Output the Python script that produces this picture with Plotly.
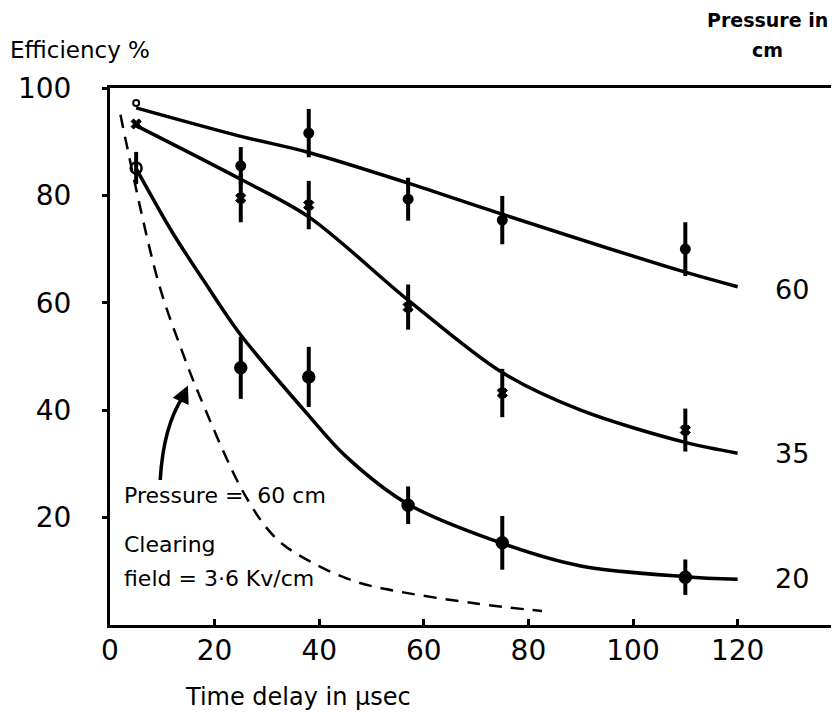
import plotly.graph_objects as go

# ---- data ----
delay = [5, 25, 38, 57, 75, 110]

eff60 = [97.2, 85.5, 91.6, 79.3, 75.4, 70.0]
err60 = [0, 3.5, 4.5, 4.0, 4.5, 5.0]
eff35 = [93.3, 79.5, 78.2, 59.2, 43.2, 36.3]
err35 = [0, 4.5, 4.5, 4.2, 4.5, 4.0]
eff20 = [85.1, 47.9, 46.2, 22.3, 15.3, 8.9]
err20 = [3.0, 5.8, 5.6, 3.5, 5.0, 3.3]

curve60_x = [5, 25, 38, 57, 75, 110, 120]
curve60_y = [96.3, 91.0, 88.0, 82.3, 76.5, 65.7, 63.0]
curve35_x = [5, 25, 38, 57, 75, 90, 110, 120]
curve35_y = [93.0, 83.0, 76.0, 60.5, 47.0, 40.0, 34.0, 32.0]
curve20_x = [5, 12, 18, 25, 38, 45, 57, 75, 90, 110, 120]
curve20_y = [85.0, 73.0, 64.0, 54.0, 39.0, 31.5, 22.5, 15.2, 11.0, 9.0, 8.5]
dash_x = [2, 9.2, 13.7, 17.2, 25.8, 31.9, 38.9, 47.2, 55.4, 70, 82.6]
dash_y = [95.0, 64.0, 51.2, 42.5, 24.2, 16.0, 11.5, 8.0, 6.2, 4.0, 2.6]

x_ticks = [0, 20, 40, 60, 80, 100, 120]
x_ticktext = ["0", "20", "40", "60", "80", "100", "120"]
y_ticks = [20, 40, 60, 80, 100]
y_ticktext = ["20", "40", "60", "80", "100"]

series_labels = ["60", "35", "20"]
series_label_y = [62.4, 32.0, 8.75]

FONT = "DejaVu Sans"
BLACK = "black"

fig = go.Figure()

for cx, cy in [(curve60_x, curve60_y), (curve35_x, curve35_y), (curve20_x, curve20_y)]:
    fig.add_trace(go.Scatter(x=cx, y=cy, mode="lines",
                             line=dict(color=BLACK, width=3.5, shape="spline", smoothing=0.9),
                             showlegend=False, hoverinfo="skip"))

fig.add_trace(go.Scatter(x=dash_x, y=dash_y, mode="lines",
                         line=dict(color=BLACK, width=2.5, dash="13px,9px", shape="spline", smoothing=1.0),
                         showlegend=False, hoverinfo="skip"))

fig.add_trace(go.Scatter(
    x=delay, y=eff60, mode="markers", showlegend=False,
    error_y=dict(type="data", array=err60, visible=True, color=BLACK, thickness=4, width=0),
    marker=dict(color=BLACK, opacity=1, size=[6, 9, 9, 9, 9, 9],
                symbol=["circle-open", "circle", "circle", "circle", "circle", "circle"],
                line=dict(color=BLACK, width=2))))

fig.add_trace(go.Scatter(
    x=delay, y=eff35, mode="markers", showlegend=False,
    error_y=dict(type="data", array=err35, visible=True, color=BLACK, thickness=4, width=0),
    marker=dict(color=BLACK, opacity=1, size=9, symbol="x", line=dict(color=BLACK, width=1))))

fig.add_trace(go.Scatter(
    x=delay, y=eff20, mode="markers", showlegend=False,
    error_y=dict(type="data", array=err20, visible=True, color=BLACK, thickness=4, width=0),
    marker=dict(color=BLACK, opacity=1, size=11,
                symbol=["circle-open", "circle", "circle", "circle", "circle", "circle"],
                line=dict(color=BLACK, width=2.5))))

# curved arrow
fig.add_shape(type="path", xref="x", yref="y",
              path="M 9.6,27 Q 10.2,37 14.0,42.6",
              line=dict(color=BLACK, width=3.5))

annotations = [
    dict(x=14.9, y=44.6, ax=13.6, ay=41.8, axref="x", ayref="y", xref="x", yref="y",
         showarrow=True, arrowhead=2, arrowsize=1, arrowwidth=3.5, arrowcolor=BLACK, text=""),
    dict(x=2.3, y=24.2, xref="x", yref="y", xanchor="left", yanchor="middle", showarrow=False,
         text="Pressure =  60 cm", font=dict(family=FONT, size=22, color=BLACK)),
    dict(x=2.3, y=14.9, xref="x", yref="y", xanchor="left", yanchor="middle", showarrow=False,
         text="Clearing", font=dict(family=FONT, size=22, color=BLACK)),
    dict(x=2.3, y=8.75, xref="x", yref="y", xanchor="left", yanchor="middle", showarrow=False,
         text="field = 3·6 Kv/cm", font=dict(family=FONT, size=22, color=BLACK)),
    dict(x=-0.140, y=1.071, xref="paper", yref="paper", xanchor="left", yanchor="middle",
         showarrow=False, text="Efficiency %", font=dict(family=FONT, size=23, color=BLACK)),
    dict(x=0.904, y=1.127, xref="paper", yref="paper", xanchor="center", yanchor="middle",
         showarrow=False, text="<b>Pressure in</b>", font=dict(family=FONT, size=19, color=BLACK)),
    dict(x=0.904, y=1.071, xref="paper", yref="paper", xanchor="center", yanchor="middle",
         showarrow=False, text="<b>cm</b>", font=dict(family=FONT, size=19, color=BLACK)),
    dict(x=0.259, y=-0.134, xref="paper", yref="paper", xanchor="center", yanchor="middle",
         showarrow=False, text="Time delay in µsec", font=dict(family=FONT, size=24, color=BLACK)),
]
for lab, ly in zip(series_labels, series_label_y):
    annotations.append(dict(x=130.4, y=ly, xref="x", yref="y", xanchor="center", yanchor="middle",
                            showarrow=False, text=lab, font=dict(family=FONT, size=27, color=BLACK)))

# the page body adds an 8px offset, so the figure is 8px smaller and margins shifted
fig.update_layout(
    width=831, height=705,
    margin=dict(l=102, r=2, t=80, b=88, autoexpand=False),
    paper_bgcolor="white", plot_bgcolor="white",
    annotations=annotations,
    font=dict(family=FONT, color=BLACK),
)
fig.update_xaxes(range=[0, 139], tickvals=x_ticks, ticktext=x_ticktext, automargin=False,
                 showgrid=False, zeroline=False, showline=True, linecolor=BLACK, linewidth=3,
                 mirror=True, ticks="inside", ticklen=6, tickwidth=3, tickcolor=BLACK,
                 tickfont=dict(family=FONT, size=28, color=BLACK), ticklabelstandoff=-2)
fig.update_yaxes(range=[0, 100], tickvals=y_ticks, ticktext=y_ticktext, automargin=False,
                 showgrid=False, zeroline=False, showline=True, linecolor=BLACK, linewidth=3,
                 mirror=True, ticks="outside", ticklen=5, tickwidth=3, tickcolor=BLACK,
                 tickfont=dict(family=FONT, size=28, color=BLACK), ticklabelstandoff=25)

fig.write_html("out.html")
